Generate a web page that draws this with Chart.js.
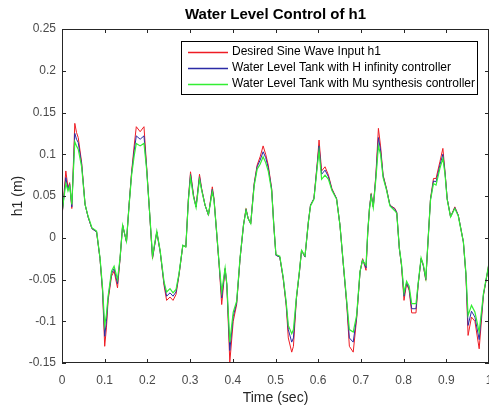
<!DOCTYPE html>
<html>
<head>
<meta charset="utf-8">
<title>Water Level Control of h1</title>
<script src="https://cdn.jsdelivr.net/npm/chart.js@4/dist/chart.umd.min.js"></script>
<style>
  html, body { margin: 0; padding: 0; background: #fff; }
  canvas { display: block; }
</style>
</head>
<body>
<canvas id="h1Chart" width="489" height="407"></canvas>
<script>
// sample times (sec)
const times = [
  0.000, 0.005, 0.009, 0.014, 0.018, 0.023, 0.030, 0.034, 0.038, 0.046,
  0.054, 0.061, 0.070, 0.081, 0.089, 0.095, 0.100, 0.104, 0.108, 0.116,
  0.122, 0.130, 0.136, 0.142, 0.151, 0.157, 0.163, 0.169, 0.174, 0.183,
  0.192, 0.198, 0.205, 0.212, 0.222, 0.230, 0.239, 0.245, 0.253, 0.260,
  0.267, 0.274, 0.283, 0.290, 0.296, 0.301, 0.308, 0.314, 0.322, 0.327,
  0.335, 0.343, 0.352, 0.356, 0.362, 0.368, 0.374, 0.382, 0.386, 0.393,
  0.401, 0.409, 0.417, 0.425, 0.431, 0.436, 0.442, 0.450, 0.457, 0.464,
  0.471, 0.477, 0.483, 0.491, 0.496, 0.501, 0.510, 0.518, 0.525, 0.530,
  0.538, 0.542, 0.549, 0.556, 0.561, 0.569, 0.577, 0.582, 0.590, 0.598,
  0.602, 0.608, 0.616, 0.624, 0.632, 0.643, 0.651, 0.659, 0.667, 0.673,
  0.682, 0.690, 0.698, 0.704, 0.712, 0.716, 0.720, 0.724, 0.729, 0.735,
  0.741, 0.746, 0.752, 0.760, 0.768, 0.780, 0.784, 0.790, 0.795, 0.801,
  0.807, 0.813, 0.819, 0.829, 0.834, 0.841, 0.846, 0.852, 0.858, 0.863,
  0.870, 0.876, 0.885, 0.892, 0.897, 0.902, 0.910, 0.920, 0.928, 0.940,
  0.946, 0.951, 0.959, 0.967, 0.977, 0.987, 0.998, 1.000
];

// desired sine wave input h1 (m)
const desiredH1 = [
  0.025, 0.055, 0.080, 0.060, 0.066, 0.035, 0.137, 0.126, 0.120, 0.090,
  0.040, 0.025, 0.011, 0.007, -0.025, -0.065, -0.130, -0.108, -0.075, -0.046,
  -0.040, -0.060, -0.025, 0.015, -0.005, 0.039, 0.079, 0.110, 0.133, 0.127,
  0.133, 0.087, 0.031, -0.025, 0.007, -0.017, -0.057, -0.075, -0.071, -0.075,
  -0.068, -0.045, -0.009, -0.011, 0.047, 0.079, 0.051, 0.037, 0.076, 0.059,
  0.039, 0.027, 0.061, 0.047, 0.007, -0.033, -0.080, -0.037, -0.057, -0.149,
  -0.100, -0.080, -0.025, 0.015, 0.035, 0.023, 0.017, 0.065, 0.087, 0.097,
  0.110, 0.100, 0.087, 0.059, 0.015, -0.021, -0.023, -0.049, -0.081, -0.120,
  -0.137, -0.130, -0.073, -0.041, -0.015, -0.023, 0.019, 0.039, 0.047, 0.091,
  0.117, 0.080, 0.085, 0.075, 0.059, 0.047, 0.015, -0.033, -0.081, -0.130,
  -0.137, -0.097, -0.041, -0.025, -0.039, 0.005, 0.035, 0.053, 0.037, 0.075,
  0.131, 0.110, 0.075, 0.059, 0.039, 0.035, 0.030, -0.013, -0.033, -0.075,
  -0.055, -0.063, -0.090, -0.090, -0.057, -0.025, -0.033, -0.051, 0.003, 0.047,
  0.071, 0.071, 0.091, 0.107, 0.079, 0.047, 0.025, 0.037, 0.027, -0.005,
  -0.045, -0.117, -0.095, -0.100, -0.133, -0.069, -0.037, -0.030
];

// tank level with H infinity controller (m)
const hInfH1 = [
  0.027, 0.052, 0.072, 0.058, 0.064, 0.037, 0.125, 0.118, 0.114, 0.088,
  0.040, 0.025, 0.011, 0.007, -0.025, -0.063, -0.118, -0.100, -0.072, -0.043,
  -0.037, -0.055, -0.025, 0.015, -0.005, 0.039, 0.077, 0.104, 0.122, 0.118,
  0.122, 0.085, 0.031, -0.024, 0.007, -0.017, -0.055, -0.070, -0.066, -0.070,
  -0.065, -0.044, -0.009, -0.011, 0.046, 0.076, 0.050, 0.037, 0.073, 0.058,
  0.039, 0.027, 0.058, 0.046, 0.007, -0.032, -0.072, -0.037, -0.056, -0.135,
  -0.094, -0.078, -0.025, 0.015, 0.034, 0.023, 0.017, 0.064, 0.085, 0.093,
  0.103, 0.096, 0.084, 0.058, 0.015, -0.021, -0.023, -0.048, -0.079, -0.110,
  -0.125, -0.120, -0.072, -0.041, -0.015, -0.023, 0.019, 0.039, 0.047, 0.089,
  0.110, 0.076, 0.081, 0.073, 0.058, 0.047, 0.015, -0.033, -0.079, -0.120,
  -0.125, -0.095, -0.041, -0.026, -0.036, 0.006, 0.035, 0.052, 0.037, 0.073,
  0.120, 0.105, 0.074, 0.058, 0.039, 0.034, 0.030, -0.013, -0.032, -0.070,
  -0.054, -0.061, -0.085, -0.085, -0.056, -0.025, -0.033, -0.050, 0.003, 0.046,
  0.068, 0.067, 0.087, 0.100, 0.078, 0.047, 0.025, 0.036, 0.027, -0.005,
  -0.044, -0.105, -0.088, -0.095, -0.122, -0.068, -0.037, -0.030
];

// tank level with Mu synthesis controller (m)
const muSynH1 = [
  0.030, 0.050, 0.065, 0.056, 0.062, 0.040, 0.115, 0.110, 0.106, 0.085,
  0.040, 0.026, 0.012, 0.008, -0.024, -0.060, -0.105, -0.092, -0.070, -0.040,
  -0.034, -0.050, -0.024, 0.015, -0.004, 0.038, 0.075, 0.098, 0.113, 0.110,
  0.113, 0.083, 0.032, -0.022, 0.008, -0.016, -0.053, -0.065, -0.061, -0.066,
  -0.062, -0.043, -0.009, -0.011, 0.045, 0.072, 0.049, 0.036, 0.070, 0.057,
  0.039, 0.028, 0.055, 0.045, 0.008, -0.031, -0.065, -0.036, -0.055, -0.125,
  -0.089, -0.076, -0.024, 0.015, 0.033, 0.023, 0.017, 0.062, 0.082, 0.088,
  0.097, 0.090, 0.080, 0.056, 0.015, -0.020, -0.022, -0.047, -0.077, -0.105,
  -0.115, -0.110, -0.071, -0.040, -0.015, -0.022, 0.019, 0.038, 0.046, 0.086,
  0.104, 0.070, 0.075, 0.070, 0.057, 0.046, 0.015, -0.032, -0.077, -0.110,
  -0.113, -0.093, -0.040, -0.027, -0.033, 0.007, 0.034, 0.050, 0.036, 0.070,
  0.110, 0.100, 0.072, 0.057, 0.038, 0.032, 0.029, -0.012, -0.031, -0.066,
  -0.052, -0.058, -0.079, -0.079, -0.055, -0.024, -0.032, -0.048, 0.003, 0.045,
  0.065, 0.063, 0.083, 0.095, 0.076, 0.046, 0.025, 0.035, 0.026, -0.005,
  -0.043, -0.093, -0.081, -0.089, -0.113, -0.067, -0.036, -0.030
];

const xTickValues = [0, 0.1, 0.2, 0.3, 0.4, 0.5, 0.6, 0.7, 0.8, 0.9, 1];
const yTickValues = [-0.15, -0.1, -0.05, 0, 0.05, 0.1, 0.15, 0.2, 0.25];

const FONT = '"Liberation Sans", Arial, Helvetica, sans-serif';
const AXIS_COLOR = '#262626';

const toPoints = (arr) => times.map((t, i) => ({ x: t, y: arr[i] }));
const fmt = (v) => String(Number(v.toFixed(2)));

// MATLAB-like box with inward ticks, plus an inset legend
const boxPlugin = {
  id: 'matlabBox',
  afterDraw(chart) {
    const { ctx, chartArea: a, scales } = chart;
    ctx.save();
    ctx.strokeStyle = AXIS_COLOR;
    ctx.lineWidth = 1;
    ctx.strokeRect(a.left + 0.5, a.top + 0.5, a.right - a.left - 1, a.bottom - a.top - 1);

    ctx.beginPath();
    xTickValues.forEach(v => {
      const px = Math.round(scales.x.getPixelForValue(v)) + 0.5;
      ctx.moveTo(px, a.bottom); ctx.lineTo(px, a.bottom - 4);
      ctx.moveTo(px, a.top); ctx.lineTo(px, a.top + 4);
    });
    yTickValues.forEach(v => {
      const py = Math.round(scales.y.getPixelForValue(v)) + 0.5;
      ctx.moveTo(a.left, py); ctx.lineTo(a.left + 4, py);
      ctx.moveTo(a.right, py); ctx.lineTo(a.right - 4, py);
    });
    ctx.stroke();

    // legend
    const lx = 181, ly = 41, lw = 296, lh = 53;
    ctx.fillStyle = '#fff';
    ctx.fillRect(lx, ly, lw, lh);
    ctx.strokeStyle = '#000';
    ctx.strokeRect(lx + 0.5, ly + 0.5, lw, lh);
    ctx.font = '12px ' + FONT;
    ctx.textBaseline = 'middle';
    ctx.textAlign = 'left';
    chart.data.datasets.forEach((ds, i) => {
      const y = ly + 11 + i * 16;
      ctx.strokeStyle = ds.borderColor;
      ctx.lineWidth = ds.borderWidth + 0.3;
      ctx.beginPath();
      ctx.moveTo(lx + 7, Math.round(y) + 0.5);
      ctx.lineTo(lx + 47, Math.round(y) + 0.5);
      ctx.stroke();
      ctx.fillStyle = '#000';
      ctx.fillText(ds.label, lx + 51, y);
    });
    ctx.restore();
  }
};

new Chart(document.getElementById('h1Chart'), {
  type: 'line',
  data: {
    datasets: [
      { label: 'Desired Sine Wave Input h1', data: toPoints(desiredH1),
        borderColor: '#ee1c24', borderWidth: 1, order: 2 },
      { label: 'Water Level Tank with H infinity controller', data: toPoints(hInfH1),
        borderColor: '#2b2ba6', borderWidth: 1, order: 1 },
      { label: 'Water Level Tank with Mu synthesis controller', data: toPoints(muSynH1),
        borderColor: '#33ee33', borderWidth: 1.2, order: 0 }
    ]
  },
  options: {
    responsive: false,
    animation: false,
    parsing: false,
    elements: { point: { radius: 0 }, line: { tension: 0 } },
    layout: { padding: { left: 0, right: 0, top: 0, bottom: 0 } },
    plugins: {
      legend: { display: false },
      tooltip: { enabled: false },
      title: {
        display: true,
        text: 'Water Level Control of h1',
        fullSize: false,
        color: '#000',
        font: { family: FONT, size: 15, weight: 'bold' },
        padding: { top: 6, bottom: 5 }
      }
    },
    scales: {
      x: {
        type: 'linear',
        min: 0, max: 1,
        grid: { display: false, drawTicks: false },
        border: { display: false },
        afterBuildTicks: (s) => { s.ticks = xTickValues.map(v => ({ value: v })); },
        afterFit: (s) => { s.height = 44; s.paddingLeft = 0; s.paddingRight = 0; },
        ticks: {
          color: '#4a4a4a', padding: 10, maxRotation: 0, autoSkip: false,
          font: { family: FONT, size: 12 },
          callback: (v) => fmt(v)
        },
        title: {
          display: true, text: 'Time (sec)', color: '#262626',
          font: { family: FONT, size: 14 },
          padding: { top: 0, bottom: 0 }
        }
      },
      y: {
        type: 'linear',
        min: -0.15, max: 0.25,
        grid: { display: false, drawTicks: false },
        border: { display: false },
        afterBuildTicks: (s) => { s.ticks = yTickValues.map(v => ({ value: v })); },
        afterFit: (s) => { s.width = 62; s.paddingTop = 0; s.paddingBottom = 0; },
        ticks: {
          color: '#4a4a4a', padding: 6, autoSkip: false,
          font: { family: FONT, size: 12 },
          callback: (v) => fmt(v)
        },
        title: {
          display: true, text: 'h1 (m)', color: '#262626',
          font: { family: FONT, size: 14 },
          padding: { top: 10, bottom: 0 }
        }
      }
    }
  },
  plugins: [boxPlugin]
});
</script>
</body>
</html>
